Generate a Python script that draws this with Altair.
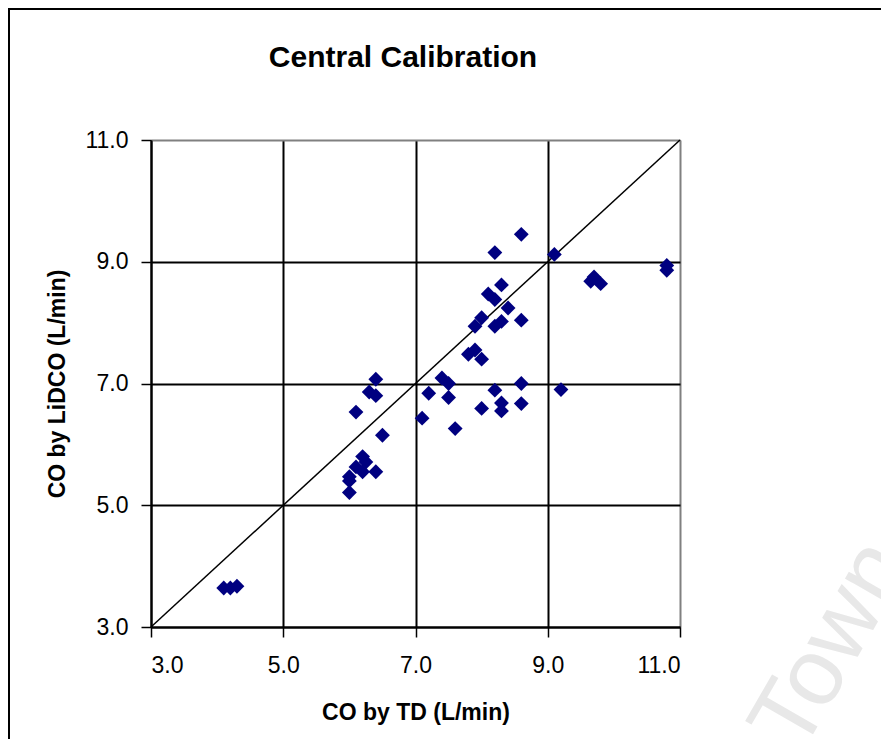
import altair as alt
import pandas as pd

# Data
td = [4.1, 4.2, 4.3, 6.0, 6.0, 6.0, 6.1, 6.2, 6.2, 6.25, 6.4, 6.1, 6.5, 6.3, 6.4, 6.4,
      7.1, 7.2, 7.4, 7.5, 7.5, 7.6, 7.8, 7.9, 8.0, 7.9, 8.0, 8.1, 8.2, 8.2, 8.3, 8.3,
      8.4, 8.6, 8.2, 8.6, 9.1, 8.0, 8.2, 8.3, 8.3, 8.6, 8.6, 9.2, 9.65, 9.7, 9.8, 10.8, 10.8]
lidco = [3.64, 3.64, 3.67, 5.21, 5.40, 5.47, 5.63, 5.55, 5.80, 5.71, 5.55, 6.53, 6.15, 6.86, 6.80, 7.07,
         6.43, 6.84, 7.09, 7.00, 6.77, 6.26, 7.48, 7.55, 7.40, 7.94, 8.08, 8.47, 8.38, 7.94, 8.02, 8.62,
         8.24, 8.04, 9.15, 9.45, 9.12, 6.59, 6.89, 6.68, 6.55, 7.00, 6.67, 6.90, 8.68, 8.75, 8.64, 8.94, 8.86]
identity_x = [3.0, 11.0]
identity_y = [3.0, 11.0]
tick_values = [3.0, 5.0, 7.0, 9.0, 11.0]
chart_title = ["Central Calibration"]
watermark_text = ["Town"]

points_df = pd.DataFrame({"td": td, "lidco": lidco})
line_df = pd.DataFrame({"x": identity_x, "y": identity_y})

FONT = "Liberation Sans"
grid_color = {"condition": {"test": "datum.value === 11", "value": "#808080"}, "value": "black"}

xscale = alt.Scale(domain=[3, 11], nice=False, zero=False)
yscale = alt.Scale(domain=[3, 11], nice=False, zero=False)

xaxis = alt.Axis(values=tick_values, format=".1f", title="CO by TD (L/min)",
                 grid=True, gridColor=grid_color, gridWidth=2,
                 domainColor="black", domainWidth=2,
                 tickColor="black", tickWidth=1.5, tickSize=10,
                 labelFont=FONT, labelFontSize=23, labelColor="black", labelPadding=17,
                 titleFont=FONT, titleFontSize=23, titleFontWeight="bold", titleColor="black",
                 titleY=85, titleBaseline="middle")
yaxis = alt.Axis(values=tick_values, format=".1f", title="CO by LiDCO (L/min)",
                 grid=True, gridColor=grid_color, gridWidth=2,
                 domainColor="black", domainWidth=2,
                 tickColor="black", tickWidth=1.5, tickSize=10,
                 labelFont=FONT, labelFontSize=23, labelColor="black", labelPadding=13,
                 titleFont=FONT, titleFontSize=23, titleFontWeight="bold", titleColor="black",
                 titleX=-94, titleBaseline="middle")

points = alt.Chart(points_df).mark_point(
    shape="diamond", filled=True, size=220, color="#000080", opacity=1
).encode(
    x=alt.X("td:Q", scale=xscale, axis=xaxis),
    y=alt.Y("lidco:Q", scale=yscale, axis=yaxis),
)

diag = alt.Chart(line_df).mark_line(color="black", strokeWidth=1.5).encode(
    x=alt.X("x:Q", scale=xscale),
    y=alt.Y("y:Q", scale=yscale),
)

frame_left = alt.Chart(line_df).mark_rule(color="black", strokeWidth=2).encode(
    x=alt.value(-142), y=alt.value(-131), y2=alt.value(700))
frame_top = alt.Chart(line_df).mark_rule(color="black", strokeWidth=2).encode(
    x=alt.value(-143), x2=alt.value(900), y=alt.value(-131))

title = alt.Chart(pd.DataFrame({"t": chart_title})).mark_text(
    font=FONT, fontSize=30, fontWeight="bold", color="black", align="center", baseline="middle"
).encode(x=alt.value(252), y=alt.value(-82), text="t:N")

watermark = alt.Chart(pd.DataFrame({"t": watermark_text})).mark_text(
    font=FONT, fontSize=95, color="#e8e8e8", angle=300, align="center", baseline="middle"
).encode(x=alt.value(680), y=alt.value(505), text="t:N")

chart = alt.layer(watermark, diag, points, frame_left, frame_top, title).properties(
    width=529, height=487,
    autosize=alt.AutoSizeParams(type="none"),
    padding={"left": 143, "top": 132, "right": 201, "bottom": 112},
).configure_view(fill="#C0C0C0", stroke="#808080", strokeWidth=2).configure(background="white")

chart.save("out.html", embed_options={"renderer": "svg", "actions": False})
